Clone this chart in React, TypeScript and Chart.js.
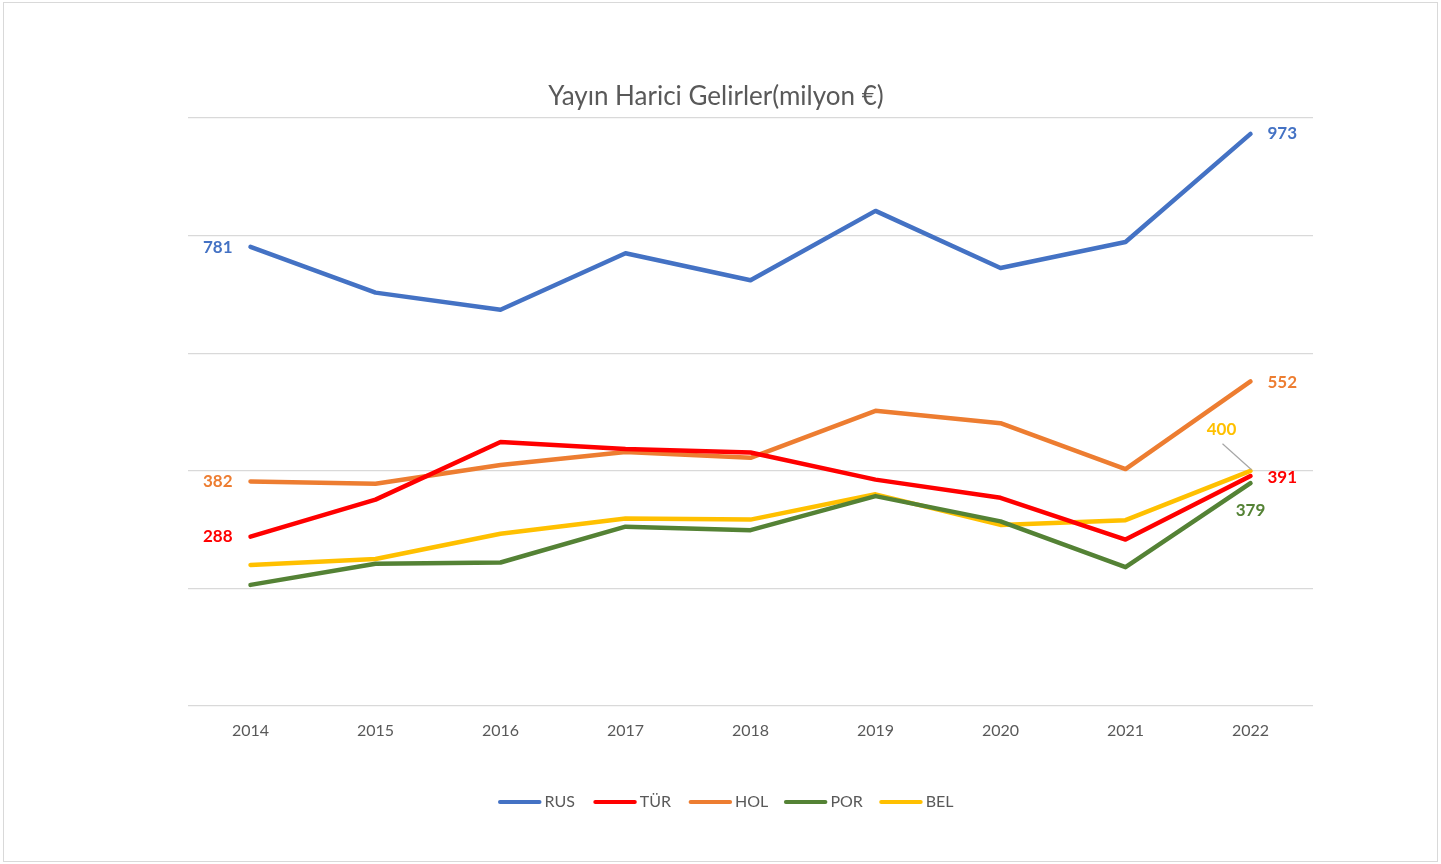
import React, { useEffect, useRef } from "react";
import { Chart, registerables } from "chart.js";

Chart.register(...registerables);

const TITLE = "Yayın Harici Gelirler(milyon €)";
const YEARS = ["2014", "2015", "2016", "2017", "2018", "2019", "2020", "2021", "2022"];
const SERIES_NAMES = ["RUS", "TÜR", "HOL", "POR", "BEL"];
const RUS = [781, 703, 674, 770, 724, 842, 745, 789, 973];
const TUR = [288, 351, 449, 437, 431, 385, 354, 283, 391];
const HOL = [382, 378, 410, 432, 422, 502, 481, 403, 552];
const POR = [206, 242, 244, 305, 299, 357, 314, 236, 379];
const BEL = [240, 250, 293, 319, 317, 360, 308, 316, 400];
const Y_MIN = 0;
const Y_MAX = 1000;
const Y_STEP = 200;

const COLORS = ["#4472C4", "#FF0000", "#ED7D31", "#548235", "#FFC000"];
const FONT = "Lato, 'Noto Sans', sans-serif";
const TEXT_GRAY = "#595959";

// data label placement: dataset index, point index, offset, alignment
const LABELS = [
  { ds: 0, idx: 0, dx: -18, dy: 1, align: "right" },
  { ds: 2, idx: 0, dx: -18, dy: 0, align: "right" },
  { ds: 1, idx: 0, dx: -18, dy: 0, align: "right" },
  { ds: 0, idx: 8, dx: 17, dy: 0, align: "left" },
  { ds: 2, idx: 8, dx: 17, dy: 1, align: "left" },
  { ds: 1, idx: 8, dx: 17, dy: 1, align: "left" },
  { ds: 3, idx: 8, dx: 0, dy: 27, align: "center" },
  { ds: 4, idx: 8, dx: -29, dy: -41, align: "center", leader: true },
];

const titlePlugin = {
  id: "customTitle",
  afterDraw(chart: any) {
    const ctx = chart.ctx;
    ctx.save();
    ctx.font = `26px ${FONT}`;
    ctx.fillStyle = TEXT_GRAY;
    ctx.textAlign = "center";
    ctx.textBaseline = "middle";
    ctx.fillText(TITLE, 716, 97);
    ctx.restore();
  },
};

const legendPlugin = {
  id: "customLegend",
  afterDraw(chart: any) {
    const ctx = chart.ctx;
    ctx.save();
    const y = 802;
    const start = 498;
    const step = 95.3;
    chart.data.datasets.forEach((ds: any, i: number) => {
      const x = start + i * step;
      ctx.strokeStyle = ds.borderColor;
      ctx.lineWidth = 4;
      ctx.lineCap = "round";
      ctx.beginPath();
      ctx.moveTo(x + 2, y);
      ctx.lineTo(x + 41.5, y);
      ctx.stroke();
      ctx.font = `16px ${FONT}`;
      ctx.fillStyle = TEXT_GRAY;
      ctx.textAlign = "left";
      ctx.textBaseline = "middle";
      ctx.fillText(ds.label, x + 46.5, y);
    });
    ctx.restore();
  },
};

const labelPlugin = {
  id: "endLabels",
  afterDatasetsDraw(chart: any) {
    const ctx = chart.ctx;
    ctx.save();
    ctx.font = `bold 17px ${FONT}`;
    ctx.textBaseline = "middle";
    LABELS.forEach((l) => {
      const meta = chart.getDatasetMeta(l.ds);
      const pt = meta.data[l.idx];
      const ds = chart.data.datasets[l.ds];
      const val = ds.data[l.idx];
      const tx = pt.x + l.dx;
      const ty = pt.y + l.dy;
      if (l.leader) {
        ctx.strokeStyle = "#A6A6A6";
        ctx.lineWidth = 1.2;
        ctx.beginPath();
        ctx.moveTo(tx + 1, ty + 14);
        ctx.lineTo(pt.x + 1, pt.y - 1);
        ctx.stroke();
      }
      ctx.fillStyle = ds.borderColor;
      ctx.textAlign = l.align;
      ctx.fillText(String(val), tx, ty);
    });
    ctx.restore();
  },
};

export default function App() {
  const canvasRef = useRef<HTMLCanvasElement | null>(null);

  useEffect(() => {
    const canvas = canvasRef.current;
    if (!canvas) return;
    const seriesData = [RUS, TUR, HOL, POR, BEL];
    const chart = new Chart(canvas, {
      type: "line",
      data: {
        labels: YEARS,
        datasets: SERIES_NAMES.map((name, i) => ({
          label: name,
          data: seriesData[i],
          borderColor: COLORS[i],
          backgroundColor: COLORS[i],
          borderWidth: 4.5,
          pointRadius: 0,
          pointHoverRadius: 0,
          tension: 0,
          borderCapStyle: "round",
          borderJoinStyle: "round",
          fill: false,
        })),
      },
      options: {
        responsive: false,
        animation: false,
        events: [],
        layout: { padding: { left: 188, right: 128, top: 118, bottom: 122 } },
        plugins: {
          legend: { display: false },
          title: { display: false },
          tooltip: { enabled: false },
        },
        scales: {
          x: {
            offset: true,
            grid: { display: false, drawTicks: false },
            border: { display: false },
            ticks: {
              color: TEXT_GRAY,
              font: { family: FONT, size: 16 },
              padding: 15,
              maxRotation: 0,
            },
            afterFit(scale: any) {
              scale.height = 36;
            },
          },
          y: {
            min: Y_MIN,
            max: Y_MAX,
            grid: { color: "#D9D9D9", lineWidth: 1.3, drawTicks: false },
            border: { display: false },
            ticks: { display: false, stepSize: Y_STEP },
          },
        },
      },
      plugins: [titlePlugin, legendPlugin, labelPlugin],
    });
    return () => chart.destroy();
  }, []);

  return (
    <div style={{ position: "absolute", left: 0, top: 0, width: 1441, height: 864, background: "#fff" }}>
      <div
        style={{
          position: "absolute",
          left: 3,
          top: 2,
          width: 1433,
          height: 858,
          border: "1.5px solid #D9D9D9",
        }}
      />
      <canvas ref={canvasRef} width={1441} height={864} style={{ position: "absolute", left: 0, top: 0 }} />
    </div>
  );
}
